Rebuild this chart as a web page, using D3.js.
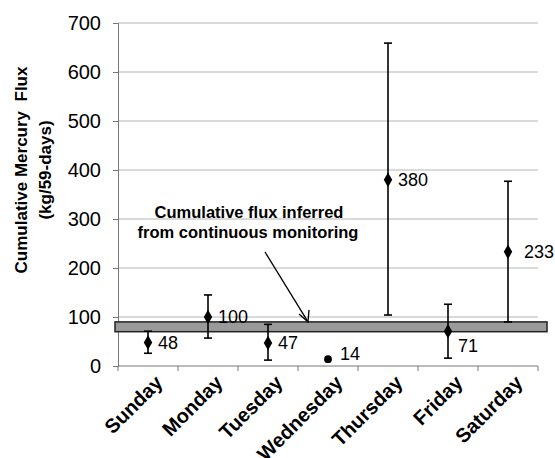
<!DOCTYPE html>
<html>
<head>
<meta charset="utf-8">
<script src="https://cdn.jsdelivr.net/npm/d3@7"></script>
<style>
  body { margin: 0; background: #fff; }
  svg { display: block; font-family: Arial, "Liberation Sans", sans-serif; }
</style>
</head>
<body>
<svg width="555" height="458"></svg>
<script>
// values
const days = ['Sunday', 'Monday', 'Tuesday', 'Wednesday', 'Thursday', 'Friday', 'Saturday']
const flux = [48, 100, 47, 14, 380, 71, 233]
const fluxHigh = [71, 145, 85, null, 659, 126, 377]
const fluxLow = [26, 57, 12, null, 104, 16, 90]
const yTicks = [0, 100, 200, 300, 400, 500, 600, 700]
const monitoredBand = [70, 90]

const svg = d3.select('svg')
const x = d3.scaleBand().domain(days).range([118, 538])
const y = d3.scaleLinear().domain([0, 700]).range([366, 23])

// gridlines
svg.append('g')
    .selectAll('line')
    .data(yTicks.slice(1))
    .enter()
    .append('line')
    .attr('x1', 118).attr('x2', 538)
    .attr('y1', d => y(d)).attr('y2', d => y(d))
    .style('stroke', '#b4b4b4')
    .style('stroke-width', 1)

// y axis
const yAxis = svg.append('g')
    .attr('transform', 'translate(118,0)')
    .call(d3.axisLeft(y).tickValues(yTicks).tickSize(5).tickPadding(12))
yAxis.select('.domain').style('stroke', '#777')
yAxis.selectAll('.tick line').style('stroke', '#777')
yAxis.selectAll('text')
    .style('font-size', '20px')
    .style('fill', '#000')
    .style('font-family', 'Arial, "Liberation Sans", sans-serif')

// x axis, ticks on category boundaries
const xAxis = svg.append('g').attr('transform', 'translate(0,366)')
xAxis.append('line')
    .attr('x1', 118).attr('x2', 538)
    .style('stroke', '#777')
xAxis.selectAll('.edge')
    .data(days.concat(['end']))
    .enter()
    .append('line')
    .attr('class', 'edge')
    .attr('x1', (d, i) => i < days.length ? x(d) : x.range()[1])
    .attr('x2', (d, i) => i < days.length ? x(d) : x.range()[1])
    .attr('y1', 0).attr('y2', 5)
    .style('stroke', '#777')
xAxis.selectAll('text')
    .data(days)
    .enter()
    .append('text')
    .attr('transform', d => `translate(${x(d) + x.bandwidth() / 2 + 11},${13}) rotate(-45)`)
    .attr('text-anchor', 'end')
    .attr('dy', '0.35em')
    .style('font-size', '20px')
    .style('font-weight', 'bold')
    .style('fill', '#000')
    .text(d => d)

// monitoring band
svg.append('rect')
    .attr('x', 115)
    .attr('width', 432)
    .attr('y', y(monitoredBand[1]))
    .attr('height', y(monitoredBand[0]) - y(monitoredBand[1]))
    .style('fill', '#9a9a9a')
    .style('stroke', '#222')
    .style('stroke-width', 1.5)

// error bars
const cx = d => x(d) + x.bandwidth() / 2
const bars = svg.append('g')
days.forEach((d, i) => {
    if (fluxHigh[i] === null) return
    bars.append('line')
        .attr('x1', cx(d)).attr('x2', cx(d))
        .attr('y1', y(fluxHigh[i])).attr('y2', y(fluxLow[i]))
        .style('stroke', '#000').style('stroke-width', 1.6)
    ;[fluxHigh[i], fluxLow[i]].forEach(v => {
        bars.append('line')
            .attr('x1', cx(d) - 4).attr('x2', cx(d) + 4)
            .attr('y1', y(v)).attr('y2', y(v))
            .style('stroke', '#000').style('stroke-width', 1.6)
    })
})

// markers
svg.append('g')
    .selectAll('path')
    .data(days)
    .enter()
    .append('path')
    .attr('transform', (d, i) => `translate(${cx(d)},${y(flux[i])})`)
    .attr('d', (d, i) => d3.symbol().type(fluxHigh[i] === null ? d3.symbolCircle : d3.symbolDiamond)
        .size(fluxHigh[i] === null ? 48 : 62)())
    .style('fill', '#000')

// value labels
const labelShift = {3: [12, -6], 5: [10, 14], 6: [16, 0]}
svg.append('g')
    .selectAll('text')
    .data(days)
    .enter()
    .append('text')
    .attr('x', (d, i) => cx(d) + (labelShift[i] ? labelShift[i][0] : 10))
    .attr('y', (d, i) => y(flux[i]) + (labelShift[i] ? labelShift[i][1] : 0))
    .attr('dy', '0.36em')
    .style('font-size', '18px')
    .style('fill', '#000')
    .text((d, i) => flux[i])

// annotation
const note = svg.append('g').style('font-size', '16.5px').style('font-weight', 'bold').style('fill', '#000')
note.append('text').attr('x', 249).attr('y', 218).attr('text-anchor', 'middle').text('Cumulative flux inferred')
note.append('text').attr('x', 248).attr('y', 238).attr('text-anchor', 'middle').text('from continuous monitoring')
const tip = [x('Wednesday') + 10, y(monitoredBand[1])]
svg.append('line')
    .attr('x1', 265).attr('y1', 252)
    .attr('x2', tip[0]).attr('y2', tip[1])
    .style('stroke', '#000').style('stroke-width', 1.3)
svg.append('path')
    .attr('d', `M${tip[0] - 9},${tip[1] - 8} L${tip[0]},${tip[1]} L${tip[0] + 1},${tip[1] - 12}`)
    .style('fill', 'none').style('stroke', '#000').style('stroke-width', 1.3)

// y title
const title = svg.append('text')
    .attr('transform', 'translate(27,170) rotate(-90)')
    .attr('text-anchor', 'middle')
    .style('font-size', '17px')
    .style('font-weight', 'bold')
    .style('fill', '#000')
title.append('tspan').attr('x', 0).attr('y', 0).style('white-space', 'pre').text('Cumulative Mercury  Flux')
title.append('tspan').attr('x', 0).attr('y', 24).text('(kg/59-days)')
</script>
</body>
</html>
